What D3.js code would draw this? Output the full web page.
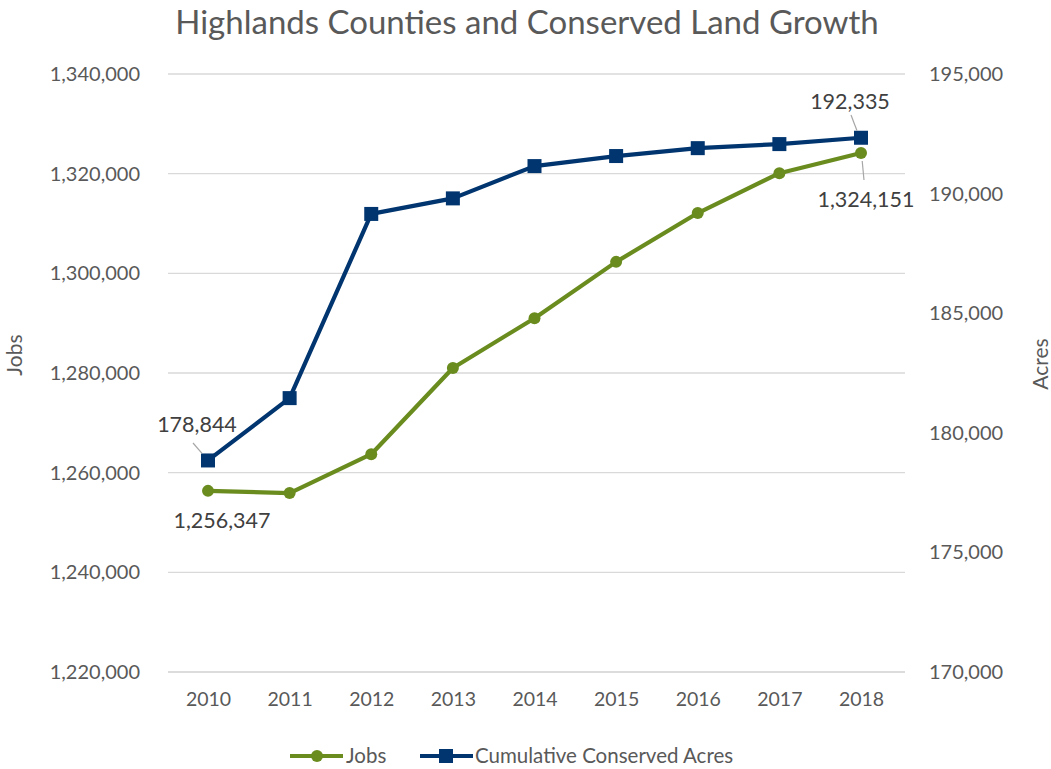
<!DOCTYPE html>
<html>
<head>
<meta charset="utf-8">
<script src="https://cdn.jsdelivr.net/npm/d3@7"></script>
<style>
  html, body { margin: 0; padding: 0; background: #fff; }
  svg { display: block; font-family: Lato, "Open Sans", sans-serif; }
</style>
</head>
<body>
<svg id="chart" width="1051" height="769"></svg>
<script>
// Series data
const years = [2010, 2011, 2012, 2013, 2014, 2015, 2016, 2017, 2018];
const jobs = [1256347, 1255900, 1263700, 1281000, 1291000, 1302300, 1312100, 1320100, 1324151];
const acres = [178844, 181450, 189150, 189800, 191150, 191570, 191900, 192070, 192335];
const jobsTicks = [1220000, 1240000, 1260000, 1280000, 1300000, 1320000, 1340000];
const acresTicks = [170000, 175000, 180000, 185000, 190000, 195000];

const svg = d3.select("#chart");
const W = 1051, H = 769;
const m = { left: 168, right: 146, top: 74, bottom: 97 };
const textColor = "#595959";
const green = "#6A8C1F";
const blue = "#00356F";
const tickSize = "20px";

const x = d3.scalePoint().domain(years).range([208, 861]);
const yL = d3.scaleLinear().domain([1220000, 1340000]).range([H - m.bottom, m.top]);
const yR = d3.scaleLinear().domain([170000, 195000]).range([H - m.bottom, m.top]);
const fmt = d3.format(",");

// Title
svg.append("text")
  .attr("x", 527).attr("y", 34)
  .attr("text-anchor", "middle")
  .attr("fill", textColor)
  .style("font-size", "33px")
  .text("Highlands Counties and Conserved Land Growth");

// Gridlines
svg.append("g")
  .selectAll("line").data(jobsTicks).join("line")
  .attr("x1", m.left).attr("x2", W - m.right)
  .attr("y1", d => yL(d)).attr("y2", d => yL(d))
  .attr("stroke", d => d === 1220000 ? "#D0D0D0" : "#D9D9D9")
  .attr("stroke-width", 1.3);

// Left axis
const leftAxis = svg.append("g")
  .attr("transform", `translate(140,0)`)
  .call(d3.axisLeft(yL).tickValues(jobsTicks).tickFormat(fmt).tickSize(0).tickPadding(0));
leftAxis.select(".domain").remove();
leftAxis.selectAll("text").attr("fill", textColor).style("font-size", tickSize).style("font-family", "Lato, sans-serif");

// Right axis
const rightAxis = svg.append("g")
  .attr("transform", `translate(929,0)`)
  .call(d3.axisRight(yR).tickValues(acresTicks).tickFormat(fmt).tickSize(0).tickPadding(0));
rightAxis.select(".domain").remove();
rightAxis.selectAll("text").attr("fill", textColor).style("font-size", tickSize).style("font-family", "Lato, sans-serif");

// Bottom axis
const bottomAxis = svg.append("g")
  .attr("transform", `translate(0,${H - m.bottom + 16})`)
  .call(d3.axisBottom(x).tickSize(0).tickPadding(0));
bottomAxis.select(".domain").remove();
bottomAxis.selectAll("text").attr("fill", textColor).style("font-size", "19.5px").style("font-family", "Lato, sans-serif").attr("dy", "0.9em");

// Axis titles
svg.append("text")
  .attr("transform", "translate(22,355) rotate(-90)")
  .attr("text-anchor", "middle")
  .attr("fill", textColor).style("font-size", "21px")
  .text("Jobs");
svg.append("text")
  .attr("transform", "translate(1048,364) rotate(-90)")
  .attr("text-anchor", "middle")
  .attr("fill", textColor).style("font-size", "21px")
  .text("Acres");

// Lines
const jobsLine = d3.line().x((d, i) => x(years[i])).y(d => yL(d));
const acresLine = d3.line().x((d, i) => x(years[i])).y(d => yR(d));

svg.append("path").datum(jobs)
  .attr("d", jobsLine).attr("fill", "none")
  .attr("stroke", green).attr("stroke-width", 4.2).attr("stroke-linejoin", "round");
svg.append("g").selectAll("circle").data(jobs).join("circle")
  .attr("cx", (d, i) => x(years[i])).attr("cy", d => yL(d))
  .attr("r", 6).attr("fill", green);

svg.append("path").datum(acres)
  .attr("d", acresLine).attr("fill", "none")
  .attr("stroke", blue).attr("stroke-width", 4.2).attr("stroke-linejoin", "round");
svg.append("g").selectAll("rect").data(acres).join("rect")
  .attr("x", (d, i) => x(years[i]) - 7).attr("y", d => yR(d) - 7)
  .attr("width", 14).attr("height", 14).attr("fill", blue);

// Data labels with leader lines
const labels = [
  { text: fmt(acres[0]), px: x(years[0]), py: yR(acres[0]), lx: 197, ly: 432, l1: [193, 443] },
  { text: fmt(jobs[0]), px: x(years[0]), py: yL(jobs[0]), lx: 222, ly: 528, l1: null },
  { text: fmt(acres[8]), px: x(years[8]), py: yR(acres[8]), lx: 850, ly: 109, l1: [851, 115] },
  { text: fmt(jobs[8]), px: x(years[8]), py: yL(jobs[8]), lx: 866, ly: 207, l1: [864, 180] }
];
labels.forEach(l => {
  if (l.l1) {
    svg.append("line")
      .attr("x1", l.l1[0]).attr("y1", l.l1[1])
      .attr("x2", l.px - (l.px - l.l1[0]) * 0.4)
      .attr("y2", l.py + (l.l1[1] > l.py ? 8 : -7))
      .attr("stroke", "#A6A6A6").attr("stroke-width", 1.2);
  }
  svg.append("text")
    .attr("x", l.lx).attr("y", l.ly)
    .attr("text-anchor", "middle")
    .attr("fill", "#404040").style("font-size", "21.5px")
    .text(l.text);
});

// Legend
const leg = svg.append("g").attr("transform", "translate(0,756)");
leg.append("line").attr("x1", 290).attr("x2", 343).attr("y1", 0).attr("y2", 0)
  .attr("stroke", green).attr("stroke-width", 4.2);
leg.append("circle").attr("cx", 317).attr("cy", 0).attr("r", 6).attr("fill", green);
leg.append("text").attr("x", 346).attr("y", 0).attr("dy", "0.35em")
  .attr("fill", textColor).style("font-size", "20.5px").text("Jobs");
leg.append("line").attr("x1", 420).attr("x2", 473).attr("y1", 0).attr("y2", 0)
  .attr("stroke", blue).attr("stroke-width", 4.2);
leg.append("rect").attr("x", 439).attr("y", -7).attr("width", 14).attr("height", 14).attr("fill", blue);
leg.append("text").attr("x", 475).attr("y", 0).attr("dy", "0.35em")
  .attr("fill", textColor).style("font-size", "20.5px").text("Cumulative Conserved Acres");
</script>
</body>
</html>
